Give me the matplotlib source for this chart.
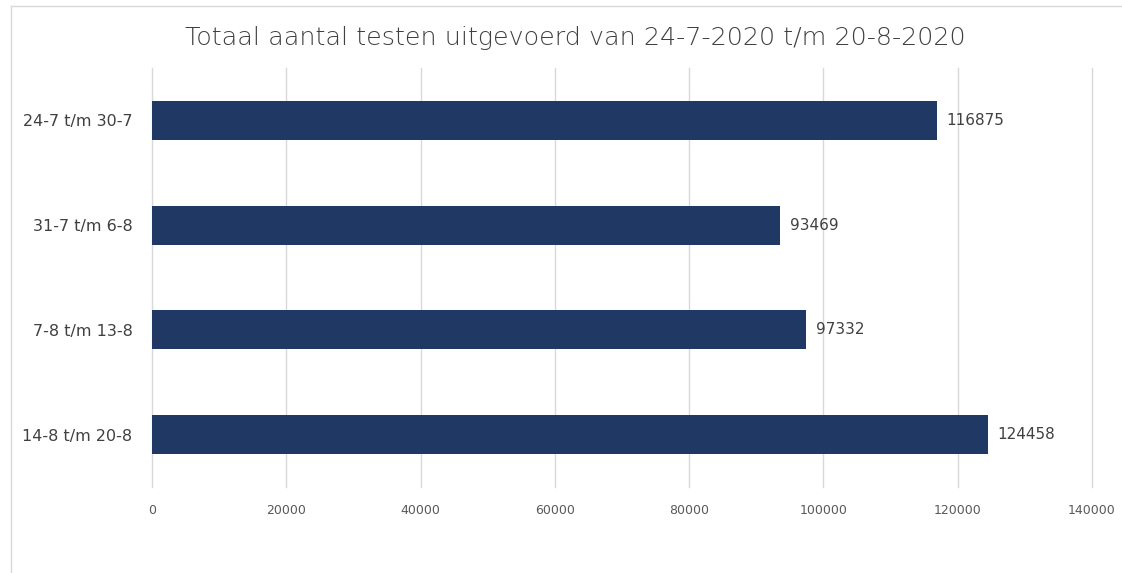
import matplotlib.pyplot as plt
from matplotlib.lines import Line2D

# weekly periods, top to bottom
periods = ["24-7 t/m 30-7", "31-7 t/m 6-8", "7-8 t/m 13-8", "14-8 t/m 20-8"]
tests = [116875, 93469, 97332, 124458]
xticks = [0, 20000, 40000, 60000, 80000, 100000, 120000, 140000]

W, H = 1122, 573
fig = plt.figure(figsize=(W / 100, H / 100), dpi=100)
ax = fig.add_axes([152 / W, 1 - 487 / H, (1092 - 152) / W, (487 - 68) / H])

pos = list(range(len(periods)))
ax.barh(pos, tests, height=0.37, color="#1f3864", zorder=2)
ax.set_ylim(len(periods) - 0.5, -0.5)
ax.set_xlim(0, 140000)
ax.set_xticks(xticks)
ax.set_xticklabels([str(t) for t in xticks], fontsize=9, color="#595959")
ax.set_yticks(pos)
ax.set_yticklabels(periods, fontsize=11.5, color="#404040")
ax.tick_params(length=0, pad=12)
ax.tick_params(axis="y", pad=14)
ax.grid(axis="x", color="#d9d9d9", lw=1, zorder=0)
for gl in ax.get_xgridlines():
    gl.set_clip_on(False)
for s in ax.spines.values():
    s.set_visible(False)

for p, v in zip(pos, tests):
    ax.text(v + 1500, p, str(v), va="center", ha="left", fontsize=11, color="#404040")

fig.suptitle("Totaal aantal testen uitgevoerd van 24-7-2020 t/m 20-8-2020",
             x=0.513, y=1 - 38 / H, va="center", fontsize=18.3, color="#404040",
             fontweight="light")

# outer chart frame (only left and top edges are visible)
fig.add_artist(Line2D([11 / W, 11 / W], [0, 1 - 6 / H], color="#d9d9d9", lw=1))
fig.add_artist(Line2D([11 / W, 1], [1 - 6 / H, 1 - 6 / H], color="#d9d9d9", lw=1))

fig.savefig("out.png", dpi=100)
